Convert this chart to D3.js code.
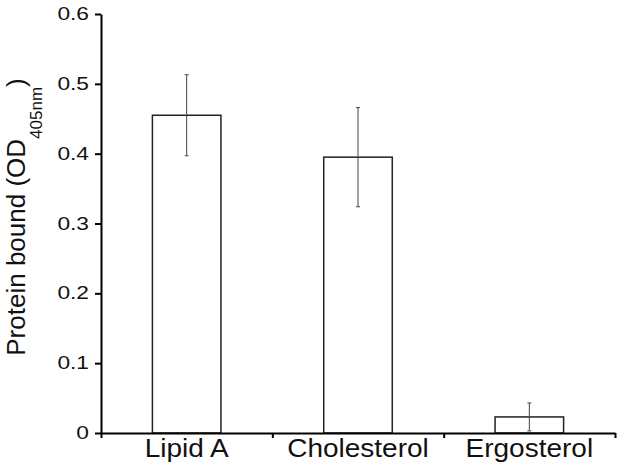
<!DOCTYPE html>
<html>
<head>
<meta charset="utf-8">
<script src="https://cdn.jsdelivr.net/npm/d3@7"></script>
<style>
  body { margin: 0; background: #fff; }
  svg { display: block; font-family: "Liberation Sans", Arial, sans-serif; }
</style>
</head>
<body>
<div id="chart"></div>
<script>
// values
const categories = ["Lipid A", "Cholesterol", "Ergosterol"];
const means = [0.455, 0.395, 0.023];
const errors = [0.058, 0.071, 0.02];
const yTicks = [0, 0.1, 0.2, 0.3, 0.4, 0.5, 0.6];

const width = 639, height = 472;
const margin = { top: 14, right: 24, bottom: 39, left: 101 };

const data = categories.map((c, i) => ({ label: c, value: means[i], err: errors[i] }));

const y = d3.scaleLinear()
  .domain([0, 0.6])
  .range([height - margin.bottom, margin.top]);

const x = d3.scaleBand()
  .domain(categories)
  .range([margin.left, width - margin.right])
  .padding(0);

// band edges, used for the ticks between categories
const xEdge = d3.scaleLinear()
  .domain([0, categories.length])
  .range([margin.left, width - margin.right]);

const barWidth = x.bandwidth() * 0.4;

const svg = d3.select("#chart")
  .append("svg")
  .attr("width", width)
  .attr("height", height);

// bars
svg.append("g")
  .selectAll("rect")
  .data(data)
  .join("rect")
  .attr("x", d => x(d.label) + (x.bandwidth() - barWidth) / 2)
  .attr("y", d => y(d.value))
  .attr("width", barWidth)
  .attr("height", d => y(0) - y(d.value))
  .attr("fill", "#fff")
  .attr("stroke", "#222")
  .attr("stroke-width", 1.5);

// error bars
const err = svg.append("g")
  .attr("stroke", "#444")
  .attr("stroke-width", 1)
  .selectAll("g")
  .data(data)
  .join("g")
  .attr("transform", d => `translate(${x(d.label) + x.bandwidth() / 2},0)`);

err.append("line")
  .attr("y1", d => y(d.value + d.err))
  .attr("y2", d => y(d.value - d.err));
err.append("line")
  .attr("x1", -2).attr("x2", 2)
  .attr("y1", d => y(d.value + d.err))
  .attr("y2", d => y(d.value + d.err));
err.append("line")
  .attr("x1", -2).attr("x2", 2)
  .attr("y1", d => y(d.value - d.err))
  .attr("y2", d => y(d.value - d.err));

// y axis
const yStretch = 1.3; // the original lettering is wide
const yAxis = svg.append("g")
  .attr("transform", `translate(${margin.left},0)`)
  .call(d3.axisLeft(y)
    .tickValues(yTicks)
    .tickFormat(d => d === 0 ? "0" : d3.format(".1f")(d))
    .tickSize(6)
    .tickSizeOuter(0));
yAxis.select(".domain").attr("stroke", "#000").attr("stroke-width", 2);
yAxis.selectAll(".tick line").attr("stroke", "#000").attr("stroke-width", 2);
yAxis.selectAll(".tick text")
  .attr("x", -12 / yStretch)
  .attr("transform", `scale(${yStretch},1)`)
  .attr("font-size", 17.5)
  .attr("font-family", "Liberation Sans, Arial, sans-serif")
  .attr("fill", "#111");

// x axis: edge ticks
const xAxis = svg.append("g")
  .attr("transform", `translate(0,${y(0)})`)
  .call(d3.axisBottom(xEdge)
    .tickValues(d3.range(categories.length + 1))
    .tickFormat("")
    .tickSize(5)
    .tickSizeOuter(0));
xAxis.select(".domain").attr("stroke", "#000").attr("stroke-width", 2);
xAxis.selectAll(".tick line").attr("stroke", "#000").attr("stroke-width", 2);

// x axis: category labels
const xLabels = svg.append("g")
  .attr("transform", `translate(0,${y(0)})`)
  .call(d3.axisBottom(x).tickSize(0).tickPadding(6));
xLabels.select(".domain").remove();
xLabels.selectAll(".tick text")
  .attr("transform", "scale(1.12,1)")
  .attr("font-size", 25)
  .attr("font-family", "Liberation Sans, Arial, sans-serif")
  .attr("fill", "#111");

// y axis title with subscript
const title = svg.append("text")
  .attr("transform", "translate(25,217) rotate(-90)")
  .attr("text-anchor", "middle")
  .attr("font-size", 26)
  .attr("fill", "#111");
title.append("tspan").text("Protein bound (OD");
title.append("tspan").attr("font-size", 17).attr("dy", 17).text("405nm");
title.append("tspan").attr("dy", -17).text(")");
</script>
</body>
</html>
